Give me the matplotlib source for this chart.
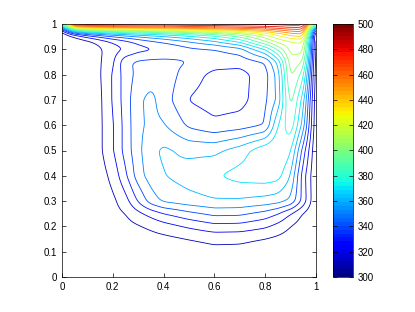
import numpy as np
import matplotlib
matplotlib.use('Agg')
import matplotlib.pyplot as plt

plt.rcParams['font.family'] = ['Liberation Sans', 'DejaVu Sans']

# grid positions of the estimated temperature values
x_nodes = [0, 0.05, 0.1, 0.15, 0.2, 0.25, 0.3, 0.35, 0.4, 0.5, 0.6, 0.7, 0.8, 0.85, 0.9, 0.95, 1.0]
y_nodes = [0, 0.1, 0.15, 0.2, 0.25, 0.3, 0.4, 0.5, 0.6, 0.7, 0.8, 0.85, 0.9, 0.93, 0.96, 0.98, 1.0]

# temperature, one row per y node (bottom to top)
temp = [
    [300, 300, 300, 300, 300, 300, 300, 300, 300, 300, 300, 300, 300, 300, 300, 300, 300],
    [300, 300.5, 301, 301.5, 302, 302.5, 303, 303.5, 304, 305.5, 307, 307, 305.5, 304.5, 303.5, 302, 300],
    [300, 301, 302, 302.5, 303, 304, 305, 306, 307, 310, 312.5, 312, 309.5, 307.5, 305, 302.5, 300],
    [300, 301.5, 303, 304, 305, 306.5, 309, 312, 315.5, 321.5, 326.5, 326, 321.5, 316.5, 310, 304.5, 300],
    [300, 302, 303.5, 305, 306.5, 310, 317, 323.5, 329.5, 337, 342.5, 342, 336, 330, 320, 309, 300],
    [300, 302, 303.5, 305, 307.5, 316, 331, 345, 352, 356, 359, 358.5, 356, 354, 348, 326, 300],
    [300, 302, 304, 305.5, 313, 328, 345.5, 355, 359.5, 365, 369, 374, 376, 374, 360, 324, 300],
    [300, 302.5, 305, 308, 319, 334, 347.5, 357, 362, 357.5, 357.5, 365, 378, 381, 372, 335, 300],
    [300, 302.5, 305, 308, 319, 334, 348, 352, 351, 338, 332.5, 335, 340, 370, 388, 355, 300],
    [300, 302.5, 305, 308, 321, 335, 348, 353, 345, 329.5, 325, 326, 338, 352, 396, 365, 300],
    [300, 302, 304.5, 309, 321, 335, 343, 346, 346, 335, 327, 326, 336, 354, 404, 385, 300],
    [300, 302, 304.5, 309, 318, 338, 342, 343, 343, 340, 335, 334, 340, 362, 407, 400, 300],
    [300, 302, 304, 308.5, 316, 320, 326, 328, 330.5, 337, 339, 345, 370, 392, 414, 415, 300],
    [300, 302, 306, 313, 320, 326, 332, 337, 341, 349, 358, 372, 400, 413, 418, 421, 300],
    [300, 315, 330, 340, 348, 353, 358, 362, 366, 375, 385, 400, 420, 432, 445, 450, 300],
    [320, 400, 420, 425, 428, 430, 432, 434, 436, 445, 450, 455, 460, 465, 470, 470, 320],
    [400, 500, 500, 500, 500, 500, 500, 500, 500, 500, 500, 500, 500, 500, 500, 500, 400],
]

levels = np.arange(310, 500, 10)
cbar_ticks = np.arange(300, 501, 20)

T = np.array(temp, dtype=float)

# resample the read grid bilinearly onto a fine mesh, then soften the kinks
xf = np.linspace(0, 1, 401)
yf = np.linspace(0, 1, 401)
Tx = np.array([np.interp(xf, x_nodes, row) for row in T])
Tf = np.array([np.interp(yf, y_nodes, Tx[:, j]) for j in range(len(xf))]).T

n = np.arange(-12, 13)
kern = np.exp(-0.5 * (n / 4.0) ** 2)
kern /= kern.sum()
pad = np.pad(Tf, 12, mode='edge')
pad = np.apply_along_axis(lambda r: np.convolve(r, kern, mode='same'), 1, pad)
pad = np.apply_along_axis(lambda c: np.convolve(c, kern, mode='same'), 0, pad)
Tf = pad[12:-12, 12:-12]

cmap = plt.get_cmap('jet', 64)
norm = matplotlib.colors.Normalize(300, 500)

fig = plt.figure(figsize=(4.15, 3.12), dpi=100)
ax = fig.add_axes([62/415, 1-277/312, 254/415, 253/312])
ax.contour(xf, yf, Tf, levels=levels, cmap=cmap, norm=norm, linewidths=0.6)

ax.set_xlim(0, 1)
ax.set_ylim(0, 1)
ax.set_xticks(np.arange(0, 1.01, 0.2))
ax.set_xticklabels(['0', '0.2', '0.4', '0.6', '0.8', '1'])
ax.set_yticks(np.arange(0, 1.01, 0.1))
ax.set_yticklabels(['0', '0.1', '0.2', '0.3', '0.4', '0.5', '0.6', '0.7', '0.8', '0.9', '1'])
ax.tick_params(direction='in', top=True, right=True, labelsize=7, length=3, width=0.5)
for s in ax.spines.values():
    s.set_linewidth(0.5)

# colorbar
cax = fig.add_axes([333/415, 1-277/312, 20/415, 253/312])
sm = matplotlib.cm.ScalarMappable(norm=norm, cmap=cmap)
cb = fig.colorbar(sm, cax=cax, ticks=cbar_ticks)
cb.ax.tick_params(direction='in', labelsize=7, length=3, width=0.5, left=True, right=True)
cb.outline.set_linewidth(0.5)

fig.savefig('out.png', dpi=100)
